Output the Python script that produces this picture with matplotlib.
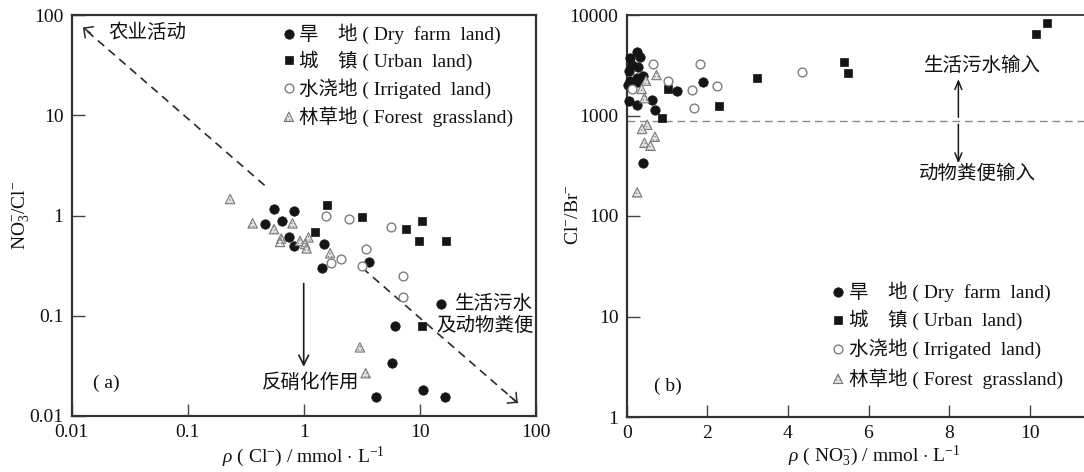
import matplotlib
matplotlib.use("Agg")
import matplotlib.pyplot as plt
from matplotlib.ticker import FixedLocator, FixedFormatter, NullLocator

plt.rcParams["font.family"] = ["Liberation Serif", "Noto Sans CJK SC"]
plt.rcParams["mathtext.fontset"] = "custom"
plt.rcParams["mathtext.rm"] = "Liberation Serif"
plt.rcParams["mathtext.it"] = "Liberation Serif:italic"
plt.rcParams["hatch.color"] = "#9a9a9a"
plt.rcParams["hatch.linewidth"] = 0.5

# ---------------- (a) Cl- concentration vs NO3-/Cl- ----------------
dry_cl = [0.555, 0.83, 0.46, 0.645, 0.75, 0.83, 1.49, 1.44, 3.66, 15.3, 6.12, 5.74, 4.2, 10.6, 16.5]
dry_ratio = [1.15, 1.11, 0.82, 0.88, 0.615, 0.50, 0.52, 0.30, 0.34, 0.13, 0.079, 0.0336, 0.0156, 0.018, 0.0156]

urban_cl = [1.6, 1.26, 3.2, 7.6, 10.4, 9.87, 16.9, 10.4]
urban_ratio = [1.27, 0.68, 0.96, 0.73, 0.875, 0.557, 0.557, 0.079]

irr_cl = [1.55, 2.47, 5.7, 3.42, 2.1, 1.73, 3.16, 7.2, 7.13]
irr_ratio = [0.99, 0.92, 0.76, 0.46, 0.366, 0.338, 0.313, 0.249, 0.153]

forest_cl = [0.232, 0.363, 0.555, 0.80, 0.64, 0.625, 0.93, 1.10, 1.03, 1.06, 1.69, 3.05, 3.42]
forest_ratio = [1.46, 0.835, 0.73, 0.835, 0.59, 0.545, 0.557, 0.605, 0.52, 0.47, 0.42, 0.0484, 0.0267]

# ---------------- (b) NO3- concentration vs Cl-/Br- ----------------
dry_no3 = [0.08, 0.26, 0.33, 0.12, 0.29, 0.06, 0.40, 0.25, 0.08, 0.29, 0.06, 0.25, 0.62, 0.70, 1.24, 1.90, 0.40, 0.04]
dry_clbr = [3700, 4250, 3850, 3180, 3060, 2750, 2500, 2340, 2220, 2170, 1390, 1270, 1420, 1140, 1760, 2130, 340, 2000]

urban_no3 = [0.87, 1.02, 2.30, 3.24, 5.40, 5.50, 10.15, 10.44]
urban_clbr = [951, 1820, 1255, 2360, 3430, 2670, 6420, 8380]

irr_no3 = [0.66, 1.82, 1.03, 1.63, 2.23, 1.68, 4.36, 0.13]
irr_clbr = [3230, 3230, 2220, 1780, 1980, 1175, 2730, 1820]

forest_no3 = [0.74, 0.48, 0.37, 0.44, 0.51, 0.38, 0.70, 0.44, 0.59, 0.26]
forest_clbr = [2530, 2220, 1840, 1490, 810, 735, 615, 535, 500, 172]

clbr_threshold = 890

# ---------------- axis ticks and labels ----------------
a_ticks = [0.01, 0.1, 1, 10, 100]
a_ticklabels = ["0.01", "0.1", "1", "10", "100"]
b_xticks = [0, 2, 4, 6, 8, 10]
b_xticklabels = ["0", "2", "4", "6", "8", "10"]
b_yticks = [1, 10, 100, 1000, 10000]
b_yticklabels = ["1", "10", "100", "1000", "10000"]

group_labels = [
    "旱\u3000地 ( Dry  farm  land)",
    "城\u3000镇 ( Urban  land)",
    "水浇地 ( Irrigated  land)",
    "林草地 ( Forest  grassland)",
]

INK = "#151515"
styles = [
    dict(marker="o", s=46, facecolors=INK, edgecolors=INK, linewidths=0.5),
    dict(marker="s", s=38, facecolors=INK, edgecolors=INK, linewidths=0.5),
    dict(marker="o", s=40, facecolors="white", edgecolors="#7d7d7d", linewidths=1.0),
    dict(marker="^", s=46, facecolors="#e4e4e4", edgecolors="#7a7a7a", linewidths=0.8, hatch="....."),
]

W, H = 1084, 472
fig = plt.figure(figsize=(W / 100, H / 100), dpi=100)


def px_box(x0, x1, y_top, y_bot):
    return [x0 / W, 1 - y_bot / H, (x1 - x0) / W, (y_bot - y_top) / H]


ax_a = fig.add_axes(px_box(71.7, 535.7, 15, 416))
ax_b = fig.add_axes(px_box(626.7, 1110.3, 15, 417))


def style_axes(ax, lw):
    for side in ("left", "bottom", "top", "right"):
        ax.spines[side].set_linewidth(lw)
        ax.spines[side].set_color("#333333")
    ax.tick_params(which="major", direction="in", length=9, width=1.0, color="#444444",
                   top=False, right=False, labelsize=14, pad=6, labelcolor="#111111")
    ax.xaxis.set_minor_locator(NullLocator())
    ax.yaxis.set_minor_locator(NullLocator())


def draw_key(ax, x_mark, x_text, rows):
    for y, lab, st in zip(rows, group_labels, styles):
        ax.scatter([x_mark], [y], transform=ax.transAxes, clip_on=False, zorder=5, **st)
        ax.text(x_text, y, lab, transform=ax.transAxes, ha="left", va="center",
                fontsize=14, color="#111111")


# ---------------- panel (a) ----------------
ax = ax_a
ax.set_xscale("log")
ax.set_yscale("log")
ax.set_xlim(0.01, 100)
ax.set_ylim(0.01, 100)
for xs, ys, st in zip([dry_cl, urban_cl, irr_cl, forest_cl],
                      [dry_ratio, urban_ratio, irr_ratio, forest_ratio], styles):
    ax.scatter(xs, ys, zorder=3, **st)
ax.xaxis.set_major_locator(FixedLocator(a_ticks))
ax.xaxis.set_major_formatter(FixedFormatter(a_ticklabels))
ax.yaxis.set_major_locator(FixedLocator(a_ticks))
ax.yaxis.set_major_formatter(FixedFormatter(a_ticklabels))
style_axes(ax, 1.6)

dash_kw = dict(color="#2a2a2a", lw=1.2, dashes=(5, 3.5))
head_kw = dict(arrowstyle="->, head_length=0.5, head_width=0.5", color="#2a2a2a",
               lw=1.1, shrinkA=0, shrinkB=0, mutation_scale=10)

# agricultural trend (upper left)
ax.plot([0.46, 0.0125], [2.0, 75], **dash_kw)
ax.annotate("", xy=(0.0125, 75), xytext=(0.0145, 66), arrowprops=head_kw)
ax.text(0.0205, 66, "农业活动", fontsize=14, ha="left", va="center", color="#111111")

# sewage / manure trend (lower right)
ax.plot([3.2, 70], [0.30, 0.0135], **dash_kw)
ax.annotate("", xy=(70, 0.0135), xytext=(60, 0.0157), arrowprops=head_kw)
ax.text(20.2, 0.13, "生活污水", fontsize=14, ha="left", va="center", color="#111111")
ax.text(13.9, 0.079, "及动物粪便", fontsize=14, ha="left", va="center", color="#111111")

# denitrification
ax.annotate("", xy=(1, 0.031), xytext=(1, 0.21),
            arrowprops=dict(arrowstyle="->, head_length=0.7, head_width=0.35", color="#1a1a1a",
                            lw=1.2, shrinkA=0, shrinkB=0, mutation_scale=10))
ax.text(0.44, 0.0213, "反硝化作用", fontsize=14, ha="left", va="center", color="#111111")
ax.text(0.0153, 0.0213, "( a)", fontsize=14, ha="left", va="center", color="#111111")

draw_key(ax, 0.468, 0.489, [0.953, 0.887, 0.817, 0.746])

# ---------------- panel (b) ----------------
ax = ax_b
ax.set_yscale("log")
ax.set_xlim(0, 12)
ax.set_ylim(1, 10000)
for xs, ys, st in zip([dry_no3, urban_no3, irr_no3, forest_no3],
                      [dry_clbr, urban_clbr, irr_clbr, forest_clbr], styles):
    ax.scatter(xs, ys, zorder=3, clip_on=False, **st)
ax.xaxis.set_major_locator(FixedLocator(b_xticks))
ax.xaxis.set_major_formatter(FixedFormatter(b_xticklabels))
ax.yaxis.set_major_locator(FixedLocator(b_yticks))
ax.yaxis.set_major_formatter(FixedFormatter(b_yticklabels))
style_axes(ax, 1.3)
ax.spines["left"].set_linewidth(1.6)
ax.spines["bottom"].set_linewidth(1.6)

ax.axhline(clbr_threshold, color="#8a8a8a", lw=1.0, dashes=(5.5, 3.5), zorder=1)
arrow_kw = dict(arrowstyle="->, head_length=0.6, head_width=0.25", color="#1a1a1a",
                lw=1.1, shrinkA=0, shrinkB=0, mutation_scale=10)
ax.annotate("", xy=(8.23, 2300), xytext=(8.23, 960), arrowprops=arrow_kw)
ax.annotate("", xy=(8.23, 335), xytext=(8.23, 820), arrowprops=arrow_kw)
ax.text(8.83, 3150, "生活污水输入", fontsize=14, ha="center", va="center", color="#111111")
ax.text(8.70, 266, "动物粪便输入", fontsize=14, ha="center", va="center", color="#111111")
ax.text(0.67, 2.0, "( b)", fontsize=14, ha="left", va="center", color="#111111")

draw_key(ax, 0.437, 0.460, [0.311, 0.242, 0.170, 0.095])

# ---------------- axis titles ----------------
fig.text(303.7 / W, 1 - 462 / H, r"$\it{\rho}$ ( Cl$^{-}$) / mmol $\cdot$ L$^{-1}$",
         ha="center", va="baseline", fontsize=14, color="#111111")
fig.text(874 / W, 1 - 462 / H, r"$\it{\rho}$ ( NO$_{3}^{-}$) / mmol $\cdot$ L$^{-1}$",
         ha="center", va="baseline", fontsize=14, color="#111111")
fig.text(21 / W, 1 - 215 / H, r"NO$_{3}^{-}$/Cl$^{-}$", rotation=90,
         ha="center", va="center", fontsize=14, color="#111111")
fig.text(573 / W, 1 - 215 / H, r"Cl$^{-}$/Br$^{-}$", rotation=90,
         ha="center", va="center", fontsize=14, color="#111111")

fig.savefig("out.png", dpi=100, facecolor="white")
